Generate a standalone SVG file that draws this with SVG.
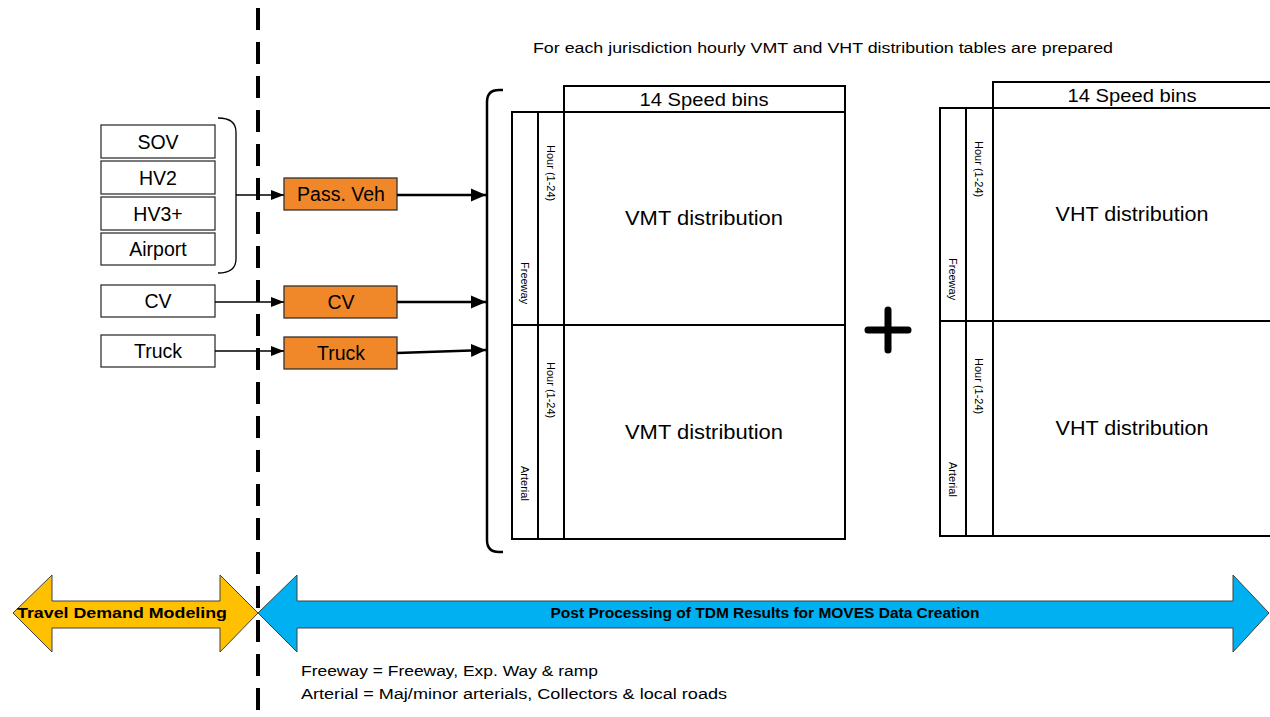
<svg xmlns="http://www.w3.org/2000/svg" width="1270" height="717" viewBox="0 0 1270 717">
<style>
.t{font-family:"Liberation Sans",Arial,sans-serif;fill:#000}
.box{fill:#fff;stroke:#333;stroke-width:1.3}
.obox{fill:#F0882A;stroke:#333;stroke-width:1.3}
.tbl{fill:none;stroke:#000;stroke-width:2}
.thin{stroke:#000;stroke-width:1.3;fill:none}
.thick{stroke:#000;stroke-width:2.5;fill:none}
.rot{font-family:"Liberation Sans",Arial,sans-serif;font-size:11px;fill:#000}
.lbl{font-size:19.5px}
.big{font-size:21px}
</style>
<defs>
<marker id="ah" markerUnits="userSpaceOnUse" markerWidth="14" markerHeight="14" viewBox="0 0 14 14" refX="13" refY="7" orient="auto">
<path d="M0,2 L13,7 L0,12 Z" fill="#000"/>
</marker>
<marker id="ahb" markerUnits="userSpaceOnUse" markerWidth="16" markerHeight="16" viewBox="0 0 16 16" refX="15" refY="8" orient="auto">
<path d="M0,1.5 L15,8 L0,14.5 Z" fill="#000"/>
</marker>
</defs>
<rect width="1270" height="717" fill="#fff"/>

<text class="t" x="533" y="53" font-size="15.5" textLength="580" lengthAdjust="spacingAndGlyphs">For each jurisdiction hourly VMT and VHT distribution tables are prepared</text>

<g id="sov"><rect class="box" x="101" y="125" width="114" height="33"/><text class="t lbl" x="158" y="149" text-anchor="middle">SOV</text></g>
<g id="hv2"><rect class="box" x="101" y="161" width="114" height="33"/><text class="t lbl" x="158" y="185" text-anchor="middle">HV2</text></g>
<g id="hv3"><rect class="box" x="101" y="197" width="114" height="33"/><text class="t lbl" x="158" y="221" text-anchor="middle">HV3+</text></g>
<g id="airport"><rect class="box" x="101" y="233" width="114" height="32"/><text class="t lbl" x="158" y="256" text-anchor="middle">Airport</text></g>
<g id="cv-in"><rect class="box" x="101" y="285" width="114" height="32"/><text class="t lbl" x="158" y="308" text-anchor="middle">CV</text></g>
<g id="truck-in"><rect class="box" x="101" y="335" width="114" height="32"/><text class="t lbl" x="158" y="358" text-anchor="middle">Truck</text></g>

<g id="pass-veh"><rect class="obox" x="284" y="178" width="113" height="32"/><text class="t lbl" x="341" y="201" text-anchor="middle">Pass. Veh</text></g>
<g id="cv"><rect class="obox" x="284" y="286" width="113" height="32"/><text class="t lbl" x="341" y="309" text-anchor="middle">CV</text></g>
<g id="truck"><rect class="obox" x="284" y="337" width="113" height="32"/><text class="t lbl" x="341" y="360" text-anchor="middle">Truck</text></g>

<g id="connectors">
<path class="thin" d="M218,118 Q236,118 236,132 L236,259 Q236,273 218,273"/>
<line class="thin" x1="236" y1="195" x2="284" y2="195" marker-end="url(#ah)"/>
<line class="thin" x1="215" y1="302" x2="284" y2="302" marker-end="url(#ah)"/>
<line class="thin" x1="215" y1="351" x2="284" y2="351" marker-end="url(#ah)"/>
<line class="thick" x1="397" y1="195" x2="486" y2="195" marker-end="url(#ahb)"/>
<line class="thick" x1="397" y1="302" x2="486" y2="302" marker-end="url(#ahb)"/>
<line class="thick" x1="397" y1="353" x2="486" y2="350" marker-end="url(#ahb)"/>
<path class="thick" d="M503,90 L499,90 Q487,90 487,102 L487,540 Q487,552 499,552 L503,552"/>
</g>

<g id="vmt-table">
<rect class="tbl" x="564" y="86" width="281" height="26"/>
<text class="t" x="704" y="106" font-size="19" text-anchor="middle" textLength="129" lengthAdjust="spacingAndGlyphs">14 Speed bins</text>
<rect class="tbl" x="512" y="112" width="333" height="427"/>
<line class="tbl" x1="538" y1="112" x2="538" y2="539"/>
<line class="tbl" x1="564" y1="112" x2="564" y2="539"/>
<line class="tbl" x1="512" y1="325" x2="845" y2="325"/>
<text class="t big" x="704" y="225" text-anchor="middle" textLength="158" lengthAdjust="spacingAndGlyphs">VMT distribution</text>
<text class="t big" x="704" y="439" text-anchor="middle" textLength="158" lengthAdjust="spacingAndGlyphs">VMT distribution</text>
<text class="rot" transform="translate(521,262) rotate(90)">Freeway</text>
<text class="rot" transform="translate(521,466) rotate(90)">Arterial</text>
<text class="rot" transform="translate(547,145) rotate(90)">Hour (1-24)</text>
<text class="rot" transform="translate(547,362) rotate(90)">Hour (1-24)</text>
</g>

<g id="plus"><path d="M868,330 H908 M888,310 V350" stroke="#000" stroke-width="7" stroke-linecap="round"/></g>

<g id="vht-table">
<rect class="tbl" x="993" y="82" width="290" height="26"/>
<text class="t" x="1132" y="102" font-size="19" text-anchor="middle" textLength="129" lengthAdjust="spacingAndGlyphs">14 Speed bins</text>
<rect class="tbl" x="940" y="108" width="343" height="428"/>
<line class="tbl" x1="966" y1="108" x2="966" y2="536"/>
<line class="tbl" x1="993" y1="108" x2="993" y2="536"/>
<line class="tbl" x1="940" y1="321" x2="1283" y2="321"/>
<text class="t big" x="1132" y="221" text-anchor="middle" textLength="153" lengthAdjust="spacingAndGlyphs">VHT distribution</text>
<text class="t big" x="1132" y="435" text-anchor="middle" textLength="153" lengthAdjust="spacingAndGlyphs">VHT distribution</text>
<text class="rot" transform="translate(949,258) rotate(90)">Freeway</text>
<text class="rot" transform="translate(949,462) rotate(90)">Arterial</text>
<text class="rot" transform="translate(975,141) rotate(90)">Hour (1-24)</text>
<text class="rot" transform="translate(975,358) rotate(90)">Hour (1-24)</text>
</g>

<g id="tdm-arrow">
<path d="M13,613 L52,575 L52,601 L220,601 L220,575 L258,613 L220,652 L220,628 L52,628 L52,652 Z" fill="#FFC000" stroke="#404040" stroke-width="1"/>
<text class="t" x="122" y="618" font-size="14" font-weight="bold" text-anchor="middle" textLength="210" lengthAdjust="spacingAndGlyphs">Travel Demand Modeling</text>
</g>
<g id="post-arrow">
<path d="M258,613 L297,575 L297,601 L1233,601 L1233,575 L1269,613 L1233,652 L1233,628 L297,628 L297,652 Z" fill="#00B0F0" stroke="#404040" stroke-width="1"/>
<text class="t" x="765" y="618" font-size="14" font-weight="bold" text-anchor="middle" textLength="429" lengthAdjust="spacingAndGlyphs">Post Processing of TDM Results for MOVES Data Creation</text>
</g>

<line id="divider" x1="258" y1="8" x2="258" y2="717" stroke="#000" stroke-width="4" stroke-dasharray="22,12"/>

<text class="t" x="301" y="676" font-size="15.5" textLength="297" lengthAdjust="spacingAndGlyphs">Freeway = Freeway, Exp. Way &amp; ramp</text>
<text class="t" x="301" y="699" font-size="15.5" textLength="426" lengthAdjust="spacingAndGlyphs">Arterial = Maj/minor arterials, Collectors &amp; local roads</text>
</svg>
